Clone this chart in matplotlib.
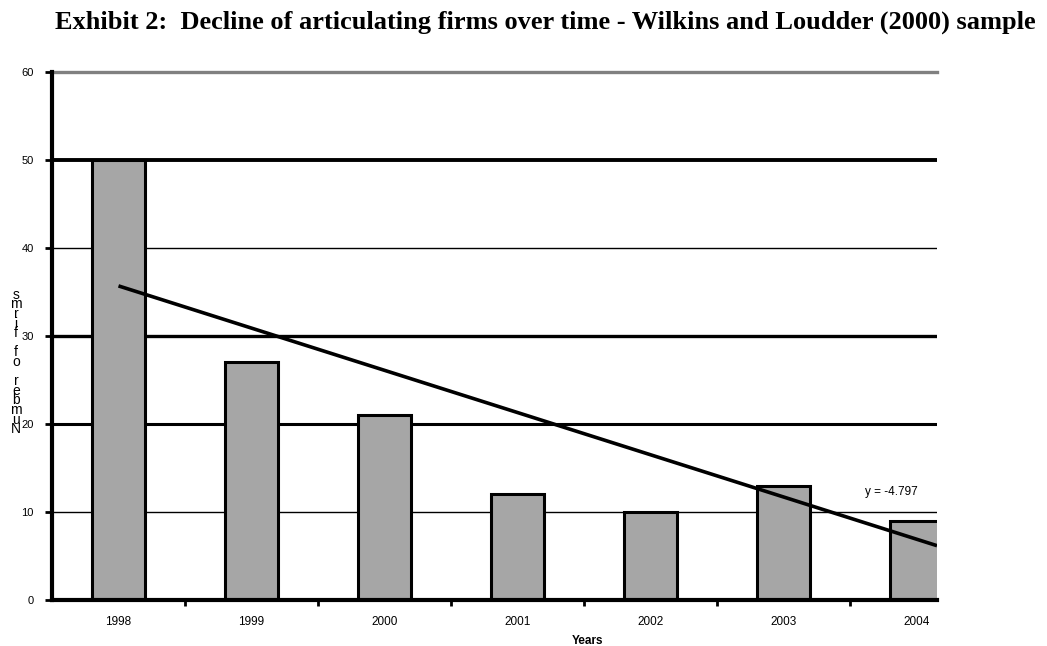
import numpy as np
import matplotlib
matplotlib.use("Agg")
import matplotlib.pyplot as plt

# Datos del gráfico
years = ["1998", "1999", "2000", "2001", "2002", "2003", "2004"]
firms = [50, 27, 21, 12, 10, 13, 9]
trend_slope = -4.797
trend_intercept = 40.49
y_ticks = [0, 10, 20, 30, 40, 50, 60]
y_label = "Number of firms"

fig = plt.figure(figsize=(10.47, 6.46), dpi=100)
ax = fig.add_axes([52 / 1047, 46 / 646, 885 / 1047, 528 / 646])

x = np.arange(len(years))
x_right = 6.154

# Líneas de la cuadrícula (grosor alternado)
grid_lw = {10: 1.0, 20: 2.2, 30: 2.4, 40: 1.0, 50: 2.8}
for v, lw in grid_lw.items():
    ax.axhline(v, color="black", lw=lw, zorder=1)
ax.axhline(60, color="#808080", lw=2.4, zorder=1, clip_on=False)

ax.bar(x, firms, width=0.4, color="#A6A6A6", edgecolor="black", linewidth=2.2, zorder=2)

# Línea de tendencia
xt = np.array([0, x_right])
ax.plot(xt, trend_slope * (xt + 1) + trend_intercept, color="black", lw=2.6, zorder=3,
        solid_capstyle="butt")
ax.text(5.613, 12.3, "y = -4.797", fontsize=8.5, family="Liberation Sans",
        va="center", ha="left", clip_on=True, zorder=4)

ax.set_xlim(-0.5, x_right)
ax.set_ylim(0, 60)
ax.set_yticks(y_ticks)
ax.set_yticklabels([str(v) for v in y_ticks], fontsize=8, family="Liberation Sans")
ax.set_xticks(np.arange(0.5, 6, 1))
ax.set_xticklabels([])
ax.tick_params(axis="y", length=5, width=2, direction="out", pad=8)
ax.tick_params(axis="x", length=4, width=2, direction="out")
for i, yr in enumerate(years):
    ax.text(i, -2.5, yr, fontsize=8.5, family="Liberation Sans", ha="center", va="center")

for s in ["top", "right"]:
    ax.spines[s].set_visible(False)
ax.spines["left"].set_linewidth(3)
ax.spines["bottom"].set_linewidth(3)
ax.spines["left"].set_zorder(5)
ax.spines["bottom"].set_zorder(5)

fig.text(587 / 1047, 1 - 641 / 646, "Years", fontsize=8.5, fontweight="bold",
         family="Liberation Sans", ha="center", va="center")

# Etiqueta del eje Y: letras apiladas, de abajo hacia arriba
stacked = "\n".join(reversed(y_label))
fig.text(16 / 1047, 1 - 362 / 646, stacked, fontsize=10, linespacing=0.6,
         family="Liberation Sans", ha="center", va="center", multialignment="center")

fig.text(55 / 1047, 1 - 22 / 646,
         "Exhibit 2:  Decline of articulating firms over time - Wilkins and Loudder (2000) sample",
         fontsize=19, fontweight="bold", family="Liberation Serif", ha="left", va="center")

fig.savefig("out.png", dpi=100)
